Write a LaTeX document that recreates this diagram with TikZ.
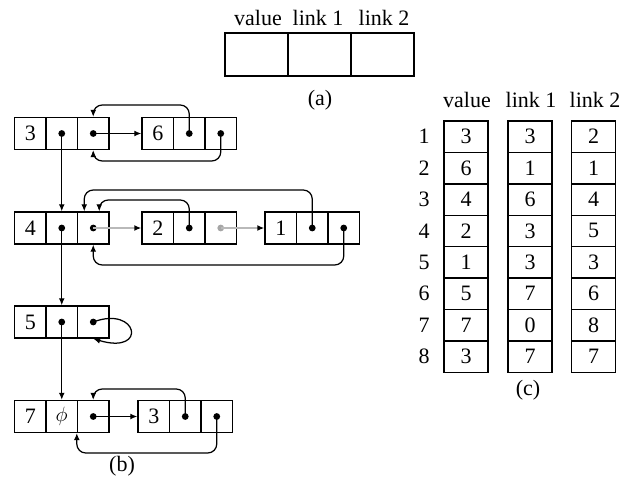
\documentclass[tikz,border=0pt]{standalone}
\usepackage{fontspec}
\setmainfont{Liberation Serif}
\usetikzlibrary{arrows.meta}
\tikzset{
  txt/.style={font=\fontsize{22}{26}\selectfont},
  cell/.style={draw, line width=1.4pt, minimum width=31.5pt, minimum height=32pt, inner sep=0pt, txt},
  tcell/.style={draw, line width=1.4pt, minimum width=44pt, minimum height=31.4pt, inner sep=0pt, txt},
  acell/.style={draw, line width=1.4pt, minimum width=63pt, minimum height=43pt, inner sep=0pt},
  lbl/.style={inner sep=0pt, txt},
  arr/.style={line width=1.25pt, -{Latex[length=7pt,width=6pt]}, rounded corners=9pt},
  grayarr/.style={line width=1.6pt, draw=gray!55, -{Latex[length=7pt,width=6pt,black]}},
}
\newcommand\mkrec[5]{%
  \node[cell] (#1-v) at (#2+15.75,#3) {#4};
  \node[cell] (#1-1) at (#2+47.25,#3) {#5};
  \node[cell] (#1-2) at (#2+78.75,#3) {};
}
\newcommand\mkdot[2][black]{\fill[#1] (#2.center) circle (3.4pt);}
\begin{document}
\begin{tikzpicture}[x=1pt,y=-1pt]
\useasboundingbox (0,0) rectangle (621,479);

% (a)
\node[acell] (a-v) at (256.5,54.5) {};
\node[acell] (a-1) at (319.5,54.5) {};
\node[acell] (a-2) at (382.5,54.5) {};
\node[lbl] (ha-v) at (258,18) {value};
\node[lbl] (ha-1) at (318,18) {link 1};
\node[lbl] (ha-2) at (384,18) {link 2};
\node[lbl] (cap-a) at (320,100) {(a)};

% (b) records
\mkrec{A}{14.5}{133.5}{3}{}
\mkrec{B}{142}{133.5}{6}{}
\mkrec{C}{14.5}{228}{4}{}
\mkrec{D}{142}{228}{2}{}
\mkrec{E}{265}{228}{1}{}
\mkrec{F}{14.5}{322}{5}{}
\mkrec{G}{14.5}{416.5}{7}{$\phi$}
\mkrec{H}{138}{416.5}{3}{}

% dots
\mkdot{A-1}\mkdot{A-2}\mkdot{B-1}\mkdot{B-2}
\mkdot{C-1}\mkdot{C-2}\mkdot{D-1}\mkdot[gray!70]{D-2}\mkdot{E-1}\mkdot{E-2}
\mkdot{F-1}\mkdot{F-2}
\mkdot{G-2}\mkdot{H-1}\mkdot{H-2}

% vertical chain
\draw[arr] (A-1.center) -- (C-1.north);
\draw[arr] (C-1.center) -- (F-1.north);
\draw[arr] (F-1.center) -- (G-1.north);

% row 1
\draw[arr] (A-2.center) -- (B-v.west);
\draw[arr] (B-1.center) -- (B-1.center |- 0,105) -- (A-2.north |- 0,105) -- (A-2.north);
\draw[arr] (B-2.center) -- (B-2.center |- 0,161) -- (A-2.south |- 0,161) -- (A-2.south);

% row 2
\draw[grayarr] (C-2.center) -- (D-v.west);
\draw[grayarr] (D-2.center) -- (E-v.west);
\draw[arr] (D-1.center) -- (D-1.center |- 0,200) -- ([xshift=6pt]C-2.north |- 0,200) -- ([xshift=6pt]C-2.north);
\draw[arr] (E-1.center) -- (E-1.center |- 0,190) -- ([xshift=-9pt]C-2.north |- 0,190) -- ([xshift=-9pt]C-2.north);
\draw[arr] (E-2.center) -- (E-2.center |- 0,265) -- (C-2.south |- 0,265) -- (C-2.south);

% row 3 self loop
\draw[arr] (F-2.center) .. controls (138,305) and (148,355) .. (F-2.south);

% row 4
\draw[arr] (G-2.center) -- (H-v.west);
\draw[arr] (H-1.center) -- (H-1.center |- 0,389) -- (G-2.north |- 0,389) -- (G-2.north);
\draw[arr] (H-2.center) -- (H-2.center |- 0,453) -- (G-2.south west |- 0,453) -- (G-2.south west);

\node[lbl] (cap-b) at (122,466) {(b)};

% (c)
\node[lbl] (hc-v) at (467,100) {value};
\node[lbl] (hc-1) at (531,100) {link 1};
\node[lbl] (hc-2) at (595,100) {link 2};
\foreach \v [count=\i] in {3,6,4,2,1,5,7,3}
  \node[tcell] (c1-\i) at (466,136.7+31.4*\i-31.4) {\v};
\foreach \v [count=\i] in {3,1,6,3,3,7,0,7}
  \node[tcell] (c2-\i) at (530,136.7+31.4*\i-31.4) {\v};
\foreach \v [count=\i] in {2,1,4,5,3,6,8,7}
  \node[tcell] (c3-\i) at (593.5,136.7+31.4*\i-31.4) {\v};
\foreach \i in {1,...,8}
  \node[lbl] (r-\i) at (424,136.7+31.4*\i-31.4) {\i};
\node[lbl] (cap-c) at (528,390) {(c)};
\end{tikzpicture}
\end{document}
